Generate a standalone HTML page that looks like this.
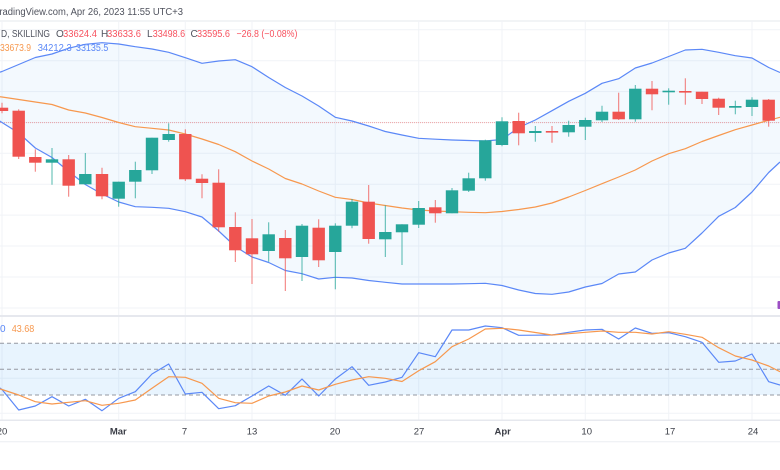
<!DOCTYPE html>
<html><head><meta charset="utf-8"><style>
html,body{margin:0;padding:0;background:#fff;}
svg{display:block;}
text{font-family:"Liberation Sans",sans-serif;}
</style></head><body>
<svg width="780" height="470" viewBox="0 0 780 470" xmlns="http://www.w3.org/2000/svg">
<rect width="780" height="470" fill="#fff"/>
<!-- header -->
<text x="-6" y="15" font-size="10" fill="#50535e" textLength="189" lengthAdjust="spacingAndGlyphs">TradingView.com, Apr 26, 2023 11:55 UTC+3</text>
<line x1="0" y1="21" x2="780" y2="21" stroke="#e6e8ee" stroke-width="1"/>
<!-- grid -->
<g stroke="#f1f3f7" stroke-width="1">
<line x1="0" y1="29.8" x2="780" y2="29.8"/><line x1="0" y1="60.7" x2="780" y2="60.7"/><line x1="0" y1="91.6" x2="780" y2="91.6"/><line x1="0" y1="122.4" x2="780" y2="122.4"/><line x1="0" y1="153.3" x2="780" y2="153.3"/><line x1="0" y1="184.2" x2="780" y2="184.2"/><line x1="0" y1="215.1" x2="780" y2="215.1"/><line x1="0" y1="246" x2="780" y2="246"/><line x1="0" y1="277" x2="780" y2="277"/><line x1="0" y1="308" x2="780" y2="308"/>
<line x1="0" y1="378.3" x2="780" y2="378.3"/><line x1="0" y1="413.3" x2="780" y2="413.3"/>
<line x1="2" y1="21" x2="2" y2="420"/><line x1="118.7" y1="21" x2="118.7" y2="420"/><line x1="185.3" y1="21" x2="185.3" y2="420"/><line x1="252" y1="21" x2="252" y2="420"/><line x1="335.3" y1="21" x2="335.3" y2="420"/><line x1="418.7" y1="21" x2="418.7" y2="420"/><line x1="502" y1="21" x2="502" y2="420"/><line x1="585.3" y1="21" x2="585.3" y2="420"/><line x1="668.7" y1="21" x2="668.7" y2="420"/><line x1="752" y1="21" x2="752" y2="420"/>
</g>
<!-- bollinger fill -->
<polygon fill="#2196f3" fill-opacity="0.055" points="-10,75 2,71.5 18.7,64.5 35.3,57.5 52,54 68.7,48.2 85.3,44.3 102,42.7 118.7,44 135.3,46.7 152,49 168.7,52.3 185.3,57.7 202,63.3 218.7,61 235.3,59.7 252,66.7 268.7,77.5 285.3,87.5 302,96 318.7,106 335.3,117.3 352,121 368.7,126 385.3,131.5 402,135 418.7,138.3 435.3,139.2 452,140 468.7,140.5 485.3,141 502,139.5 518.7,127.5 535.3,120 552,110.7 568.7,101.3 585.3,93.3 602,83.3 618.7,78.7 635.3,68 652,63 668.7,56.5 685.3,50 702,49.3 718.7,52.3 735.3,55.7 752,58 768.7,67.5 780,72.5 780,162 768.7,172.5 752,192 735.3,207.5 718.7,216.3 702,233 685.3,248.3 668.7,253 652,260 635.3,272 618.7,274 602,283.5 585.3,287 568.7,292 552,294.3 535.3,293.5 518.7,290 502,285.5 485.3,283.3 468.7,283.7 452,284 435.3,284 418.7,284 402,284 385.3,282.3 368.7,280.5 352,278 335.3,277.3 318.7,279 302,273.7 285.3,270.5 268.7,262.5 252,257 235.3,246.5 218.7,231 202,217 185.3,211.7 168.7,208.3 152,207.3 135.3,206.7 118.7,202 102,194 85.3,184.5 68.7,171.5 52,157.5 35.3,148 18.7,133 2,122.5 -10,115"/>
<!-- price line -->
<line x1="0" y1="122.6" x2="780" y2="122.6" stroke="#ef5350" stroke-opacity="0.5" stroke-width="1" stroke-dasharray="1,1"/>
<!-- bands -->
<g fill="none" stroke-width="1.2" stroke-linejoin="round">
<polyline stroke="#5b88f7" points="-10,75 2,71.5 18.7,64.5 35.3,57.5 52,54 68.7,48.2 85.3,44.3 102,42.7 118.7,44 135.3,46.7 152,49 168.7,52.3 185.3,57.7 202,63.3 218.7,61 235.3,59.7 252,66.7 268.7,77.5 285.3,87.5 302,96 318.7,106 335.3,117.3 352,121 368.7,126 385.3,131.5 402,135 418.7,138.3 435.3,139.2 452,140 468.7,140.5 485.3,141 502,139.5 518.7,127.5 535.3,120 552,110.7 568.7,101.3 585.3,93.3 602,83.3 618.7,78.7 635.3,68 652,63 668.7,56.5 685.3,50 702,49.3 718.7,52.3 735.3,55.7 752,58 768.7,67.5 780,72.5"/>
<polyline stroke="#5b88f7" points="-10,115 2,122.5 18.7,133 35.3,148 52,157.5 68.7,171.5 85.3,184.5 102,194 118.7,202 135.3,206.7 152,207.3 168.7,208.3 185.3,211.7 202,217 218.7,231 235.3,246.5 252,257 268.7,262.5 285.3,270.5 302,273.7 318.7,279 335.3,277.3 352,278 368.7,280.5 385.3,282.3 402,284 418.7,284 435.3,284 452,284 468.7,283.7 485.3,283.3 502,285.5 518.7,290 535.3,293.5 552,294.3 568.7,292 585.3,287 602,283.5 618.7,274 635.3,272 652,260 668.7,253 685.3,248.3 702,233 718.7,216.3 735.3,207.5 752,192 768.7,172.5 780,162"/>
<polyline stroke="#f7984e" points="-10,95.5 2,97 18.7,99.5 35.3,102 52,104.5 68.7,110 85.3,113 102,117.5 118.7,122.5 135.3,126.7 152,128.3 168.7,130 185.3,134 202,139 218.7,144.5 235.3,151.7 252,161 268.7,169 285.3,178.5 302,184 318.7,191 335.3,197.3 352,199.5 368.7,203 385.3,205.5 402,208 418.7,210 435.3,211 452,211.7 468.7,212.3 485.3,212.7 502,211.5 518.7,209.5 535.3,207 552,203 568.7,197 585.3,190.5 602,183.7 618.7,177 635.3,170 652,161 668.7,153.7 685.3,148.7 702,141.5 718.7,135.5 735.3,129.7 752,125 768.7,120.3 780,117.3"/>
</g>
<!-- candles: wicks -->
<g stroke-width="1" stroke-opacity="0.8">
<g stroke="#ef5350">
<line x1="2" y1="102.7" x2="2" y2="113.3"/><line x1="18.7" y1="109.3" x2="18.7" y2="159"/><line x1="35.3" y1="149.3" x2="35.3" y2="171.7"/><line x1="68.7" y1="155" x2="68.7" y2="196.7"/><line x1="102" y1="167.7" x2="102" y2="199.3"/><line x1="185.3" y1="129.3" x2="185.3" y2="181"/><line x1="202" y1="174.3" x2="202" y2="198.3"/><line x1="218.7" y1="169.3" x2="218.7" y2="231.7"/><line x1="235.3" y1="212.3" x2="235.3" y2="262"/><line x1="252" y1="219" x2="252" y2="284"/><line x1="285.3" y1="230" x2="285.3" y2="291"/><line x1="318.7" y1="219.3" x2="318.7" y2="267"/><line x1="368.7" y1="185" x2="368.7" y2="243.7"/><line x1="435.3" y1="200" x2="435.3" y2="222.7"/><line x1="518.7" y1="112.7" x2="518.7" y2="145.3"/><line x1="552" y1="126" x2="552" y2="142.7"/><line x1="618.7" y1="92.7" x2="618.7" y2="120"/><line x1="652" y1="81" x2="652" y2="110.3"/><line x1="685.3" y1="78.3" x2="685.3" y2="104.7"/><line x1="702" y1="91.7" x2="702" y2="104"/><line x1="718.7" y1="97.7" x2="718.7" y2="115"/><line x1="768.7" y1="99" x2="768.7" y2="126.7"/>
</g>
<g stroke="#26a69a">
<line x1="52" y1="148" x2="52" y2="184.7"/><line x1="85.3" y1="153" x2="85.3" y2="184.3"/><line x1="118.7" y1="181.7" x2="118.7" y2="206.7"/><line x1="135.3" y1="161.7" x2="135.3" y2="198.3"/><line x1="152" y1="137.7" x2="152" y2="174"/><line x1="168.7" y1="123.3" x2="168.7" y2="141.7"/><line x1="268.7" y1="222.3" x2="268.7" y2="261.7"/><line x1="302" y1="224" x2="302" y2="281"/><line x1="335.3" y1="223.3" x2="335.3" y2="289.3"/><line x1="352" y1="199" x2="352" y2="228.3"/><line x1="385.3" y1="205.3" x2="385.3" y2="257"/><line x1="402" y1="224.3" x2="402" y2="265"/><line x1="418.7" y1="201" x2="418.7" y2="228"/><line x1="452" y1="188" x2="452" y2="213.3"/><line x1="468.7" y1="172.7" x2="468.7" y2="192"/><line x1="485.3" y1="139.7" x2="485.3" y2="180.7"/><line x1="502" y1="117.3" x2="502" y2="146.3"/><line x1="535.3" y1="126" x2="535.3" y2="141.7"/><line x1="568.7" y1="120.7" x2="568.7" y2="136.7"/><line x1="585.3" y1="117.7" x2="585.3" y2="140"/><line x1="602" y1="105.7" x2="602" y2="122"/><line x1="635.3" y1="85" x2="635.3" y2="121.7"/><line x1="668.7" y1="88.3" x2="668.7" y2="104.7"/><line x1="735.3" y1="100.7" x2="735.3" y2="114.3"/><line x1="752" y1="97.3" x2="752" y2="116"/>
</g>
</g>
<!-- candles: bodies -->
<g fill="#ef5350">
<rect x="-4.2" y="107.7" width="12.4" height="3.3"/><rect x="12.5" y="110.7" width="12.4" height="46"/><rect x="29.1" y="157" width="12.4" height="5.7"/><rect x="62.5" y="159.3" width="12.4" height="26.4"/><rect x="95.8" y="174" width="12.4" height="22.3"/><rect x="179.1" y="134" width="12.4" height="45.3"/><rect x="195.8" y="178.7" width="12.4" height="4.3"/><rect x="212.5" y="182.7" width="12.4" height="44.6"/><rect x="229.1" y="227" width="12.4" height="23.3"/><rect x="245.8" y="238.3" width="12.4" height="16"/><rect x="279.1" y="238" width="12.4" height="20.3"/><rect x="312.5" y="227.7" width="12.4" height="32.6"/><rect x="362.5" y="201.7" width="12.4" height="37.3"/><rect x="429.1" y="207.3" width="12.4" height="6"/><rect x="512.5" y="121" width="12.4" height="12.3"/><rect x="545.8" y="131" width="12.4" height="1.6"/><rect x="612.5" y="111.7" width="12.4" height="7.6"/><rect x="645.8" y="88.7" width="12.4" height="5.6"/><rect x="679.1" y="91" width="12.4" height="1.6"/><rect x="695.8" y="91.7" width="12.4" height="7.3"/><rect x="712.5" y="98.7" width="12.4" height="9"/><rect x="762.5" y="99.7" width="12.4" height="21"/>
</g>
<g fill="#26a69a">
<rect x="45.8" y="159.3" width="12.4" height="3.4"/><rect x="79.1" y="174" width="12.4" height="10.3"/><rect x="112.5" y="181.7" width="12.4" height="17"/><rect x="129.1" y="170" width="12.4" height="11.7"/><rect x="145.8" y="137.7" width="12.4" height="32.6"/><rect x="162.5" y="134" width="12.4" height="6"/><rect x="262.5" y="234.3" width="12.4" height="16.7"/><rect x="295.8" y="225.7" width="12.4" height="31.3"/><rect x="329.1" y="225.7" width="12.4" height="26.3"/><rect x="345.8" y="201.7" width="12.4" height="24"/><rect x="379.1" y="232" width="12.4" height="7.3"/><rect x="395.8" y="224.3" width="12.4" height="8"/><rect x="412.5" y="208" width="12.4" height="16.7"/><rect x="445.8" y="190.3" width="12.4" height="23"/><rect x="462.5" y="178.3" width="12.4" height="12.4"/><rect x="479.1" y="140.3" width="12.4" height="38"/><rect x="495.8" y="121.3" width="12.4" height="23.7"/><rect x="529.1" y="131" width="12.4" height="2"/><rect x="562.5" y="125" width="12.4" height="7.3"/><rect x="579.1" y="120" width="12.4" height="6.7"/><rect x="595.8" y="111.7" width="12.4" height="8.6"/><rect x="629.1" y="88.7" width="12.4" height="30.6"/><rect x="662.5" y="90.7" width="12.4" height="1.6"/><rect x="729.1" y="106" width="12.4" height="1.7"/><rect x="745.8" y="99.7" width="12.4" height="7.3"/>
</g>
<!-- legend -->
<g font-size="10">
<text x="1" y="37" fill="#50535e" textLength="49" lengthAdjust="spacingAndGlyphs">D, SKILLING</text>
<text x="56" y="37" fill="#50535e">O</text><text x="63" y="37" fill="#f7525f" textLength="34" lengthAdjust="spacingAndGlyphs">33624.4</text>
<text x="101" y="37" fill="#50535e">H</text><text x="107" y="37" fill="#f7525f" textLength="34" lengthAdjust="spacingAndGlyphs">33633.6</text>
<text x="147" y="37" fill="#50535e">L</text><text x="152.7" y="37" fill="#f7525f" textLength="32.5" lengthAdjust="spacingAndGlyphs">33498.6</text>
<text x="190.5" y="37" fill="#50535e">C</text><text x="197" y="37" fill="#f7525f" textLength="33" lengthAdjust="spacingAndGlyphs">33595.6</text>
<text x="236.5" y="37" fill="#f7525f" textLength="61" lengthAdjust="spacingAndGlyphs">−26.8 (−0.08%)</text>
<text x="0" y="51" fill="#f7984e" textLength="31" lengthAdjust="spacingAndGlyphs">33673.9</text>
<text x="37.7" y="51" fill="#5b88f7" textLength="34" lengthAdjust="spacingAndGlyphs">34212.3</text>
<text x="76" y="51" fill="#5b88f7" textLength="32.3" lengthAdjust="spacingAndGlyphs">33135.5</text>
</g>
<!-- pane separator -->
<rect x="0" y="315" width="780" height="2" fill="#e6e8ee"/>
<rect x="777.5" y="301" width="3" height="8" rx="1" fill="#9c4fc4"/>
<!-- indicator -->
<rect x="0" y="343.3" width="780" height="51.7" fill="#2196f3" fill-opacity="0.1"/>
<g stroke="#9598a1" stroke-width="1" stroke-dasharray="4,3">
<line x1="0" y1="343.3" x2="780" y2="343.3"/><line x1="0" y1="369.3" x2="780" y2="369.3"/><line x1="0" y1="395" x2="780" y2="395"/>
</g>
<g fill="none" stroke-width="1.2" stroke-linejoin="round">
<polyline stroke="#5b88f7" points="-14.7,378 2,389.5 18.7,410 35.3,406 52,396.7 68.7,406 85.3,399.3 102,410.7 118.7,398.3 135.3,391.7 152,374 168.7,364 185.3,394 202,392.3 218.7,408.7 235.3,405.7 252,396 268.7,386 285.3,395.3 302,379 318.7,396 335.3,379 352,366.7 368.7,385.3 385.3,382 402,377.3 418.7,352.7 435.3,356.7 452,330 468.7,330 485.3,326 502,327.7 518.7,335.3 535.3,335.2 552,335 568.7,332.3 585.3,330 602,329.3 618.7,339 635.3,328 652,333.3 668.7,332.7 685.3,336.7 702,342.3 718.7,362.3 735.3,361 752,354 768.7,381.7 780,385"/>
<polyline stroke="#f7984e" points="-14.7,385 2,389.5 18.7,395 35.3,401.7 52,404 68.7,402.3 85.3,400.7 102,405.3 118.7,403.3 135.3,400 152,388.3 168.7,376.7 185.3,377.3 202,383.3 218.7,398.3 235.3,402.7 252,403.3 268.7,396 285.3,392 302,386 318.7,390 335.3,384.3 352,380 368.7,376.7 385.3,378.3 402,381.5 418.7,370.7 435.3,361.7 452,346.7 468.7,339 485.3,329 502,328.3 518.7,330 535.3,332.5 552,335 568.7,333.7 585.3,332.3 602,331 618.7,332.3 635.3,332.3 652,334 668.7,331.7 685.3,334.3 702,337.3 718.7,347.7 735.3,356 752,360 768.7,366 780,371.7"/>
</g>
<g font-size="10">
<text x="0" y="332" fill="#5b88f7">0</text>
<text x="11.7" y="332" fill="#f7984e" textLength="22.6" lengthAdjust="spacingAndGlyphs">43.68</text>
</g>
<!-- time axis -->
<rect x="0" y="419.5" width="780" height="1.5" fill="#e6e8ee"/>
<line x1="0" y1="441.7" x2="780" y2="441.7" stroke="#eceef2" stroke-width="1"/>
<g font-size="9.5" fill="#3a3d46" text-anchor="middle">
<text x="2" y="434.5">20</text>
<text x="118.3" y="434.5" font-weight="bold">Mar</text>
<text x="184.5" y="434.5">7</text>
<text x="252" y="434.5">13</text>
<text x="335" y="434.5">20</text>
<text x="419" y="434.5">27</text>
<text x="502.7" y="434.5" font-weight="bold">Apr</text>
<text x="586.7" y="434.5">10</text>
<text x="670" y="434.5">17</text>
<text x="753" y="434.5">24</text>
</g>
</svg>
</body></html>
